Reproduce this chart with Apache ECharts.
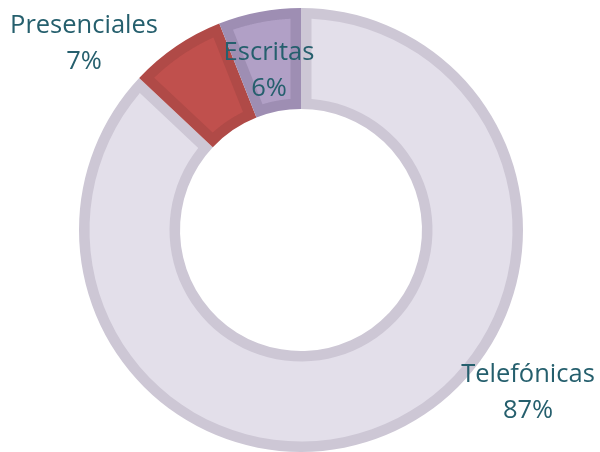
<!DOCTYPE html>
<html>
<head>
<meta charset="utf-8">
<script src="https://cdn.jsdelivr.net/npm/echarts@6/dist/echarts.min.js"></script>
<style>html,body{margin:0;padding:0;background:#fff;}#c{width:600px;height:452px;}</style>
</head>
<body>
<div id="c"></div>
<script>
// Data
const categories = ['Telefónicas', 'Presenciales', 'Escritas'];
const values = [87, 7, 6];
const fillColors = ['#e3dfea', '#c0504d', '#b1a0c6'];
const borderColors = ['#cdc7d5', '#b04a47', '#9e8eb3'];

// Layout
const CX = 301, CY = 230, R_OUT = 222, R_IN = 121, BORDER = 10.5;
const labelPos = [[528, 393], [84, 44], [269, 71]];

const total = values.reduce((a, b) => a + b, 0);
let acc = 0;
const spans = values.map((v, i) => {
  const s = acc / total * 100; acc += v;
  return [s, acc / total * 100, i];
});

const chart = echarts.init(document.getElementById('c'), null, {renderer: 'canvas'});

function insetSector(params, api) {
  const a0 = api.value(0), a1 = api.value(1), idx = api.value(2);
  const ro = R_OUT - BORDER, ri = R_IN + BORDER;
  const off = r => Math.asin(BORDER / r) / (2 * Math.PI) * 100;
  const pts = [];
  const n = 80;
  const so = a0 + off(ro), eo = a1 - off(ro);
  for (let k = 0; k <= n; k++) pts.push(api.coord([ro, so + (eo - so) * k / n]));
  const si = a0 + off(ri), ei = a1 - off(ri);
  for (let k = n; k >= 0; k--) pts.push(api.coord([ri, si + (ei - si) * k / n]));
  return {
    type: 'polygon',
    shape: {points: pts},
    style: {fill: fillColors[idx], stroke: null},
    silent: true
  };
}

const pieData = categories.map((c, i) => ({name: c, value: values[i], itemStyle: {color: borderColors[i]}}));
const pieBase = {
  type: 'pie',
  center: [CX, CY],
  radius: [R_IN, R_OUT],
  startAngle: 90,
  clockwise: true,
  silent: true,
  emphasis: {disabled: true},
  itemStyle: {borderWidth: 0}
};

chart.setOption({
  animation: false,
  backgroundColor: '#ffffff',
  polar: {center: [CX, CY], radius: R_OUT},
  angleAxis: {type: 'value', min: 0, max: 100, startAngle: 90, clockwise: true,
    show: false, axisLine: {show: false}, axisTick: {show: false}, axisLabel: {show: false}, splitLine: {show: false}},
  radiusAxis: {type: 'value', min: 0, max: R_OUT, show: false,
    axisLine: {show: false}, axisTick: {show: false}, axisLabel: {show: false}, splitLine: {show: false}},
  series: [
    Object.assign({}, pieBase, {
      z: 1,
      data: pieData,
      label: {show: false},
      labelLine: {show: false}
    }),
    {
      type: 'custom',
      coordinateSystem: 'polar',
      z: 2,
      silent: true,
      renderItem: insetSector,
      data: spans
    },
    Object.assign({}, pieBase, {
      z: 3,
      data: categories.map((c, i) => ({name: c, value: values[i], itemStyle: {color: 'rgba(0,0,0,0)'}})),
      label: {
        show: true,
        position: 'outside',
        formatter: p => p.name + '\n' + p.value + '%',
        color: '#255f6d',
        fontFamily: 'Open Sans',
        fontSize: 25.5,
        lineHeight: 36,
        align: 'center',
        overflow: 'none'
      },
      labelLine: {show: false},
      labelLayout: p => ({x: labelPos[p.dataIndex][0], y: labelPos[p.dataIndex][1], align: 'center', verticalAlign: 'middle'})
    })
  ]
});
</script>
</body>
</html>
